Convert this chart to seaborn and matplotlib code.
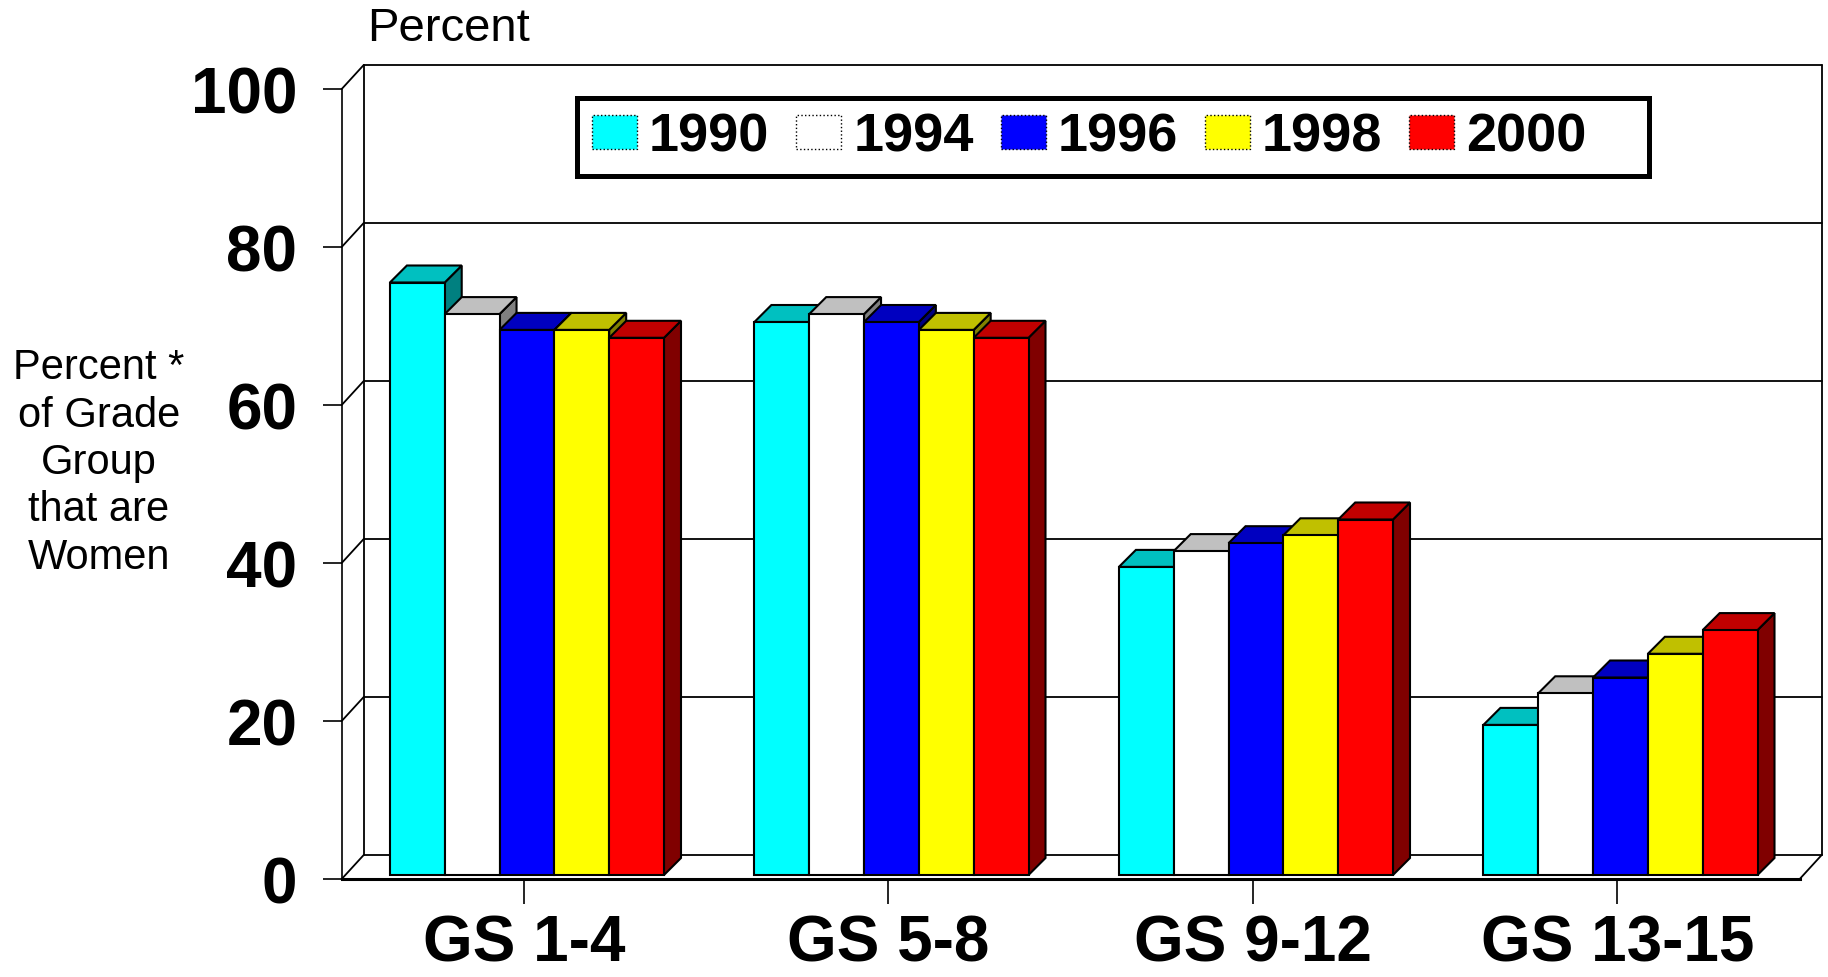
import matplotlib
matplotlib.use("Agg")
import matplotlib.pyplot as plt
from matplotlib.patches import Patch, Polygon, Rectangle
from matplotlib.transforms import ScaledTranslation
import pandas as pd
import seaborn as sns

# data
grades = ["GS 1-4", "GS 5-8", "GS 9-12", "GS 13-15"]
years = ["1990", "1994", "1996", "1998", "2000"]
pct_1990 = [75, 70, 39, 19]
pct_1994 = [71, 71, 41, 23]
pct_1996 = [69, 70, 42, 25]
pct_1998 = [69, 69, 43, 28]
pct_2000 = [68, 68, 45, 31]
y_ticks = [0, 20, 40, 60, 80, 100]

front_colors = ["#00FFFF", "#FFFFFF", "#0000FF", "#FFFF00", "#FF0000"]
top_colors = ["#00C0C0", "#C0C0C0", "#0000C0", "#C0C000", "#C00000"]
side_colors = ["#008080", "#808080", "#000080", "#808000", "#800000"]

rows = []
for yr, vals in zip(years, [pct_1990, pct_1994, pct_1996, pct_1998, pct_2000]):
    for g, v in zip(grades, vals):
        rows.append({"grade": g, "year": yr, "pct": v})
df = pd.DataFrame(rows)

sns.set_style("ticks")
plt.rcParams["font.family"] = ["Liberation Sans", "DejaVu Sans"]
plt.rcParams["text.color"] = "black"
plt.rcParams["xtick.color"] = "black"
plt.rcParams["ytick.color"] = "black"
plt.rcParams["axes.edgecolor"] = "black"

W, H = 1828, 978
fig = plt.figure(figsize=(W / 100, H / 100), dpi=100)
ax_pos = [341.7 / W, (H - 880) / H, 1458 / W, 790 / H]
ax = fig.add_axes(ax_pos)

sns.barplot(data=df, x="grade", y="pct", hue="year", hue_order=years,
            palette=front_colors, width=0.752, saturation=1, errorbar=None,
            edgecolor="black", linewidth=1.5, legend=False, ax=ax)
ax.set_xlim(-0.5, 3.5)
ax.set_ylim(0, 100)

# pixel -> data units for the fake 3d depth
px_x = 4 / (ax_pos[2] * W)
px_y = 100 / (ax_pos[3] * H)
bar_dx, bar_dy = 17 * px_x, 17 * px_y
wall_dx, wall_dy = 22 * px_x, 24 * px_y
# bars stand a little back from the front edge of the floor
inset = ax.transData + ScaledTranslation(0.03, 0.04, fig.dpi_scale_trans)

# tops and sides of the bars
for i, cont in enumerate(ax.containers):
    for p in cont.patches:
        x0, w, h = p.get_x(), p.get_width(), p.get_height()
        x1 = x0 + w
        top = Polygon([(x0, h), (x1, h), (x1 + bar_dx, h + bar_dy), (x0 + bar_dx, h + bar_dy)],
                      facecolor=top_colors[i], edgecolor="black", lw=1.5,
                      zorder=1 + i * 0.1, transform=inset)
        side = Polygon([(x1, 0), (x1, h), (x1 + bar_dx, h + bar_dy), (x1 + bar_dx, bar_dy)],
                       facecolor=side_colors[i], edgecolor="black", lw=1.5,
                       zorder=1 + i * 0.1, transform=inset)
        ax.add_patch(side)
        ax.add_patch(top)
        p.set_transform(inset)
        p.set_zorder(3)

# back wall, left wall and floor
kw = dict(color="black", lw=1.3, clip_on=False, zorder=0.5)
for t in y_ticks:
    ax.plot([-0.5 + wall_dx, 3.5 + wall_dx], [t + wall_dy, t + wall_dy], **kw)
    ax.plot([-0.5, -0.5 + wall_dx], [t, t + wall_dy], **kw)
ax.plot([-0.5 + wall_dx] * 2, [wall_dy, 100 + wall_dy], **kw)
ax.plot([3.5 + wall_dx] * 2, [wall_dy, 100 + wall_dy], **kw)
ax.plot([3.5, 3.5 + wall_dx], [0, wall_dy], **kw)

for s in ["top", "right"]:
    ax.spines[s].set_visible(False)
ax.spines["left"].set_linewidth(1.2)
ax.spines["bottom"].set_linewidth(2.2)
ax.spines["bottom"].set_zorder(4)

ax.set_yticks(y_ticks)
ax.tick_params(axis="y", length=14, width=1.2, pad=18, labelsize=46)
ax.tick_params(axis="x", length=18, width=1.2, pad=7, labelsize=46)
for lab in ax.get_yticklabels() + ax.get_xticklabels():
    lab.set_fontweight("bold")
ax.set_xlabel("")
ax.set_ylabel("")

# legend with a heavy frame
handles = [Patch(facecolor=c, edgecolor="black", lw=1, linestyle=":") for c in front_colors]
leg = fig.legend(handles, years, loc="center left", bbox_to_anchor=(592 / W, 1 - 138 / H),
                 ncol=5, frameon=False, prop={"weight": "bold", "size": 39},
                 handlelength=0.83, handleheight=0.59, handletextpad=0.22,
                 columnspacing=0.5, borderpad=0, borderaxespad=0)
fig.add_artist(Rectangle((576.5 / W, 1 - 176.5 / H), 1072 / W, 78 / H,
                         transform=fig.transFigure, fill=False, edgecolor="black", lw=3.6))

fig.text(367 / W, 1 - 41 / H, "Percent", fontsize=34, va="baseline", ha="left")
fig.text(99 / W, 1 - 463 / H, "Percent *\nof Grade\nGroup\nthat are\nWomen",
         fontsize=30, ha="center", va="center", multialignment="center", linespacing=1.24)

fig.savefig("out.png", dpi=100, facecolor="white")
